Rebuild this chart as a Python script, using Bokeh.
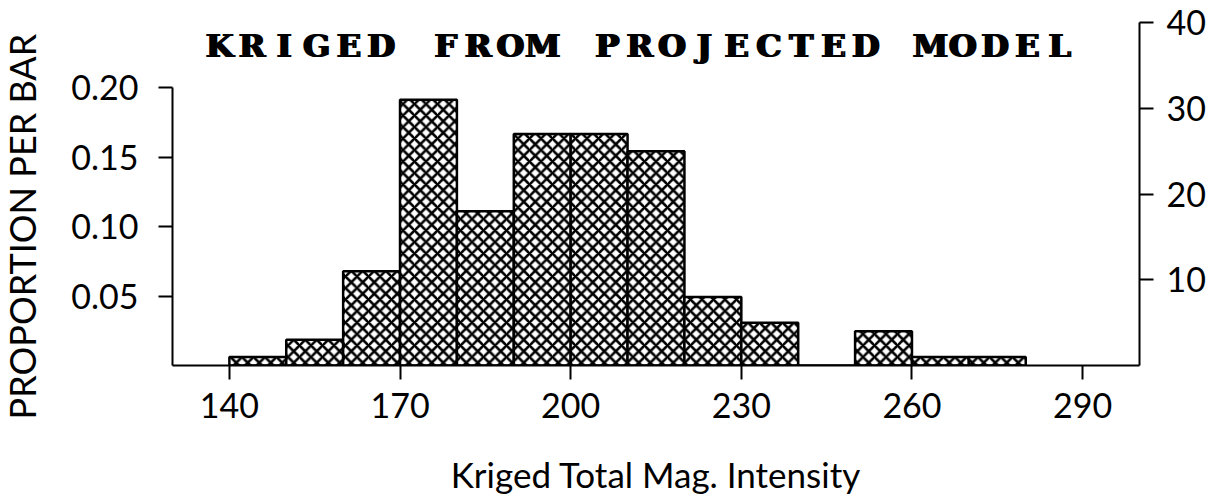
import math
from bokeh.plotting import figure
from bokeh.models import LinearAxis, Range1d, FixedTicker, NumeralTickFormatter, ColumnDataSource, Label
from bokeh.core.properties import value
from bokeh.embed import file_html
from bokeh.resources import INLINE

# Histogram of kriged total magnetic intensity, bins of width 10
bin_edges = [140, 150, 160, 170, 180, 190, 200, 210, 220, 230, 240, 250, 260, 270, 280]
counts = [1, 3, 11, 31, 18, 27, 27, 25, 8, 5, 0, 4, 1, 1]
x_ticks = [140, 170, 200, 230, 260, 290]
count_ticks = [10, 20, 30, 40]
prop_ticks = [0.05, 0.10, 0.15, 0.20]
title_text = "KRIGED FROM PROJECTED MODEL"
x_label = "Kriged Total Mag. Intensity"
y_label = "PROPORTION PER BAR"

n_total = sum(counts)
count_max = 40
FONT = "Lato"

p = figure(
    width=1222, height=504,
    x_range=Range1d(130, 300), y_range=Range1d(0, count_max),
    output_backend="svg", toolbar_location=None, tools="",
    x_axis_location="below", y_axis_location="right",
    min_border_left=172, min_border_right=83,
    min_border_top=22, min_border_bottom=139,
)
p.outline_line_color = None
p.grid.visible = False
p.background_fill_color = "white"
p.border_fill_color = "white"

# Proportion scale shares the frame with the count scale
p.extra_y_ranges = {"prop": Range1d(0, count_max / n_total)}

src = ColumnDataSource(dict(
    left=bin_edges[:-1], right=bin_edges[1:],
    top=counts, bottom=[0] * len(counts),
))
p.quad(left="left", right="right", top="top", bottom="bottom", source=src,
       fill_color="white", line_color="black", line_width=2.5,
       hatch_pattern="diagonal_cross", hatch_color="black",
       hatch_scale=11.5, hatch_weight=2.6)


def style_axis(ax):
    ax.axis_line_color = "black"
    ax.axis_line_width = 2
    ax.major_tick_line_color = "black"
    ax.major_tick_line_width = 2
    ax.major_tick_in = 0
    ax.major_tick_out = 14
    ax.minor_tick_line_color = None
    ax.major_label_text_font = FONT
    ax.major_label_text_font_size = "34px"
    ax.major_label_text_color = "black"
    ax.axis_label_text_font = FONT
    ax.axis_label_text_font_size = "35px"
    ax.axis_label_text_font_style = "normal"
    ax.axis_label_text_color = "black"


# bottom axis
xa = p.xaxis[0]
xa.ticker = FixedTicker(ticks=x_ticks)
xa.axis_label = x_label
xa.major_label_standoff = 13
xa.axis_label_standoff = 32
style_axis(xa)

# right axis: counts
ra = p.yaxis[0]
ra.ticker = FixedTicker(ticks=count_ticks)
ra.major_label_standoff = 13
style_axis(ra)

# left axis: proportion per bar
la = LinearAxis(y_range_name="prop", bounds=(0, 0.2))
la.ticker = FixedTicker(ticks=prop_ticks)
la.formatter = NumeralTickFormatter(format="0.00")
la.major_label_standoff = 20
style_axis(la)
p.add_layout(la, "left")

# vertical axis title, centred on the drawn part of the proportion axis
p.add_layout(Label(
    x=103.6, y=0.1, y_range_name="prop", text=y_label, angle=math.pi / 2,
    text_font=FONT, text_font_size="36px", text_color="black",
    text_align="center", text_baseline="middle",
), "left")

# spaced-out slab title, one character per fixed-width cell
char_step = 5.68
x0 = 138.3
tx = [x0 + i * char_step for i in range(len(title_text))]
for dx in (-0.18, 0.18):
    p.text(x=[t + dx for t in tx], y=[37.3] * len(tx), text=list(title_text),
           text_font=value("DejaVu Serif"), text_font_style="bold",
           text_font_size="32px", text_color="black",
           text_align="center", text_baseline="middle")

open("out.html", "w").write(file_html(p, INLINE))
